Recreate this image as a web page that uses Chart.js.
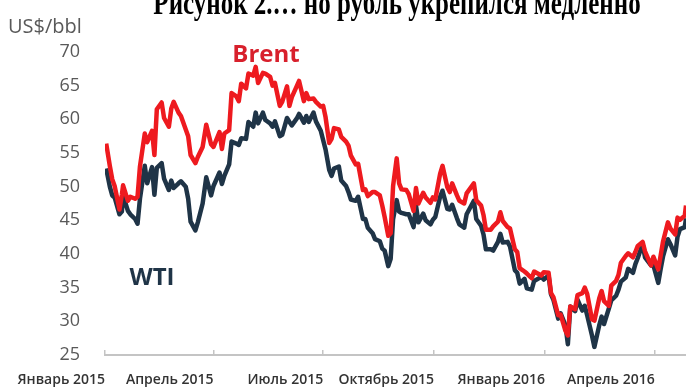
<!DOCTYPE html>
<html>
<head>
<meta charset="utf-8">
<title>Brent и WTI</title>
<script src="https://cdn.jsdelivr.net/npm/chart.js@4/dist/chart.umd.min.js"></script>
<style>
  html, body { margin: 0; padding: 0; background: #fff; }
  #wrap { position: relative; width: 686px; height: 391px; }
</style>
</head>
<body>
<div id="wrap"><canvas id="oilChart"></canvas></div>
<script>
// Котировки нефти, долл. за баррель (январь 2015 – апрель 2016)
const dates = [
  '2015-01-02','2015-01-05','2015-01-07','2015-01-09','2015-01-13','2015-01-15','2015-01-16','2015-01-20',
  '2015-01-22','2015-01-26','2015-01-28','2015-01-30','2015-02-03','2015-02-05','2015-02-09','2015-02-11',
  '2015-02-13','2015-02-17','2015-02-19','2015-02-23','2015-02-25','2015-02-27','2015-03-03','2015-03-05',
  '2015-03-09','2015-03-11','2015-03-13','2015-03-17','2015-03-19','2015-03-23','2015-03-26','2015-03-30',
  '2015-04-01','2015-04-06','2015-04-08','2015-04-10','2015-04-14','2015-04-16','2015-04-20','2015-04-22',
  '2015-04-24','2015-04-28','2015-04-30','2015-05-04','2015-05-06','2015-05-08','2015-05-12','2015-05-14',
  '2015-05-18','2015-05-20','2015-05-22','2015-05-26','2015-05-28','2015-06-01','2015-06-03','2015-06-05',
  '2015-06-09','2015-06-11','2015-06-15','2015-06-17','2015-06-19','2015-06-23','2015-06-25','2015-06-29',
  '2015-07-01','2015-07-03','2015-07-06','2015-07-08','2015-07-10','2015-07-14','2015-07-16','2015-07-20',
  '2015-07-22','2015-07-24','2015-07-28','2015-07-30','2015-08-03','2015-08-05','2015-08-07','2015-08-11',
  '2015-08-13','2015-08-17','2015-08-19','2015-08-21','2015-08-24','2015-08-26','2015-08-28','2015-08-31',
  '2015-09-02','2015-09-04','2015-09-08','2015-09-10','2015-09-14','2015-09-16','2015-09-18','2015-09-22',
  '2015-09-24','2015-09-28','2015-09-30','2015-10-02','2015-10-06','2015-10-08','2015-10-12','2015-10-14',
  '2015-10-16','2015-10-20','2015-10-22','2015-10-26','2015-10-28','2015-11-03','2015-11-05','2015-11-09',
  '2015-11-11','2015-11-13','2015-11-17','2015-11-19','2015-11-23','2015-11-25','2015-11-27','2015-12-01',
  '2015-12-03','2015-12-07','2015-12-09','2015-12-11','2015-12-15','2015-12-17','2015-12-21','2015-12-23',
  '2015-12-29','2015-12-31','2016-01-04','2016-01-06','2016-01-08','2016-01-12','2016-01-14','2016-01-18',
  '2016-01-20','2016-01-22','2016-01-26','2016-01-28','2016-02-01','2016-02-03','2016-02-05','2016-02-09',
  '2016-02-11','2016-02-15','2016-02-17','2016-02-19','2016-02-23','2016-02-25','2016-02-29','2016-03-02',
  '2016-03-04','2016-03-08','2016-03-10','2016-03-14','2016-03-16','2016-03-18','2016-03-22','2016-03-24',
  '2016-03-29','2016-03-31','2016-04-04','2016-04-06','2016-04-08','2016-04-12','2016-04-14','2016-04-18',
  '2016-04-20','2016-04-22','2016-04-26','2016-04-27'
];

const brent = [
  56.4, 53.1, 51.1, 50.1, 46.6, 48.8, 50.2, 47.9,
  48.5, 48.2, 48.5, 53.0, 57.9, 56.6, 58.3, 54.7,
  61.5, 62.5, 60.2, 58.9, 61.6, 62.6, 61.0, 60.5,
  58.5, 57.5, 54.7, 53.5, 54.4, 55.9, 59.2, 56.3,
  55.9, 58.1, 55.6, 57.9, 58.4, 63.9, 63.4, 62.7,
  65.3, 64.6, 66.8, 66.5, 67.8, 65.4, 66.9, 66.8,
  66.3, 65.0, 65.4, 62.0, 62.6, 64.9, 62.0, 63.3,
  64.9, 65.7, 62.7, 63.9, 63.0, 63.1, 62.6, 61.9,
  62.0, 60.3, 56.5, 57.1, 58.7, 58.5, 57.4, 56.7,
  56.1, 54.6, 53.3, 53.4, 49.5, 49.6, 48.6, 49.2,
  49.2, 48.7, 47.2, 45.5, 42.7, 43.1, 50.1, 54.2,
  50.5, 49.6, 49.5, 48.9, 46.4, 49.8, 47.5, 49.1,
  48.4, 47.6, 48.4, 48.1, 51.9, 53.1, 49.9, 49.2,
  50.5, 48.7, 47.9, 47.5, 49.0, 50.5, 48.0, 47.2,
  45.8, 43.6, 43.6, 44.1, 44.8, 46.2, 44.9, 44.0,
  43.8, 40.7, 40.3, 37.9, 37.4, 37.1, 36.4, 37.4,
  36.8, 37.3, 37.2, 34.2, 33.6, 30.9, 31.0, 28.6,
  27.9, 32.2, 31.8, 33.9, 34.2, 35.0, 34.1, 30.3,
  30.1, 33.4, 34.5, 33.0, 32.3, 35.3, 36.0, 36.9,
  38.7, 39.7, 40.1, 39.5, 40.3, 41.2, 41.8, 40.4,
  38.3, 39.6, 37.7, 39.8, 41.9, 44.7, 43.8, 42.9,
  45.4, 45.1, 45.7, 47.2
];

const wti = [
  52.7, 50.0, 48.7, 48.4, 45.9, 46.3, 48.7, 46.4,
  45.9, 45.2, 44.5, 48.2, 53.1, 50.5, 52.9, 48.8,
  52.8, 53.5, 51.2, 49.5, 50.9, 49.8, 50.5, 50.8,
  50.0, 48.2, 44.8, 43.5, 44.7, 47.5, 51.4, 48.7,
  50.1, 52.1, 50.4, 51.6, 53.3, 56.7, 56.4, 56.2,
  57.2, 57.1, 59.6, 58.9, 61.0, 59.4, 61.0, 59.9,
  59.4, 58.9, 59.7, 57.5, 57.7, 60.2, 59.6, 59.1,
  60.1, 60.8, 59.5, 60.5, 59.6, 61.0, 59.7, 58.3,
  56.9, 55.5, 52.5, 51.6, 52.7, 53.0, 50.9, 50.1,
  49.2, 48.1, 47.9, 48.5, 45.2, 45.2, 43.9, 43.1,
  42.2, 41.9, 40.8, 40.5, 38.2, 39.3, 45.2, 48.0,
  46.3, 46.1, 45.9, 45.9, 44.0, 47.2, 44.7, 46.0,
  45.0, 44.4, 45.1, 45.5, 48.5, 49.4, 46.7, 46.6,
  47.3, 45.3, 44.4, 43.9, 45.9, 47.9, 45.2, 44.2,
  42.9, 40.7, 40.7, 40.5, 41.8, 43.0, 41.7, 41.8,
  41.1, 37.6, 37.2, 35.6, 36.3, 34.9, 34.7, 36.0,
  36.6, 36.2, 36.8, 34.0, 33.2, 30.4, 31.2, 29.4,
  26.6, 32.2, 31.5, 33.2, 31.6, 32.3, 30.9, 27.9,
  26.2, 29.4, 30.7, 29.6, 31.9, 33.1, 33.8, 34.7,
  35.9, 36.5, 37.8, 37.2, 38.5, 39.4, 41.5, 39.5,
  38.3, 38.3, 35.7, 37.8, 39.7, 42.2, 41.5, 39.8,
  42.6, 43.7, 44.0, 45.3
];

const tickDates = ['2015-01-01', '2015-04-01', '2015-07-01', '2015-10-01', '2016-01-01', '2016-04-01'];
const tickLabels = ['Январь 2015', 'Апрель 2015', 'Июль 2015', 'Октябрь 2015', 'Январь 2016', 'Апрель 2016'];
const yTicks = [25, 30, 35, 40, 45, 50, 55, 60, 65, 70];

const heading = 'Рисунок 2.… но рубль укрепился медленно';
const unitLabel = 'US$/bbl';

// дни от 1 января 2015
const START = Date.UTC(2015, 0, 1);
function dayOf(s) {
  const [y, m, d] = s.split('-').map(Number);
  return (Date.UTC(y, m - 1, d) - START) / 86400000;
}
const days = dates.map(dayOf);
const tickDays = tickDates.map(dayOf);

// подписи: заголовок (обрезан сверху), единицы, названия рядов
const captions = {
  id: 'captions',
  afterDraw(chart) {
    const ctx = chart.ctx;
    ctx.save();
    ctx.textBaseline = 'alphabetic';

    ctx.save();
    ctx.fillStyle = '#000';
    ctx.textAlign = 'center';
    ctx.font = 'bold 25px "Liberation Serif"';
    ctx.translate(397, 14);
    ctx.scale(1, 1.35);
    ctx.fillText(heading, 0, 0);
    ctx.restore();

    ctx.fillStyle = '#595959';
    ctx.textAlign = 'left';
    ctx.font = '20px "Open Sans"';
    ctx.fillText(unitLabel, 8, 33);

    ctx.textAlign = 'center';
    ctx.font = 'bold 24px "Open Sans"';
    ctx.fillStyle = '#d8202c';
    ctx.fillText('Brent', 266, 62);
    ctx.fillStyle = '#1f3447';
    ctx.fillText('WTI', 152, 285);
    ctx.restore();
  }
};

const ctx = document.getElementById('oilChart').getContext('2d');
const chart = new Chart(ctx, {
  type: 'line',
  data: {
    datasets: [
      {
        label: 'Brent',
        data: days.map((d, i) => ({ x: d, y: brent[i] })),
        borderColor: '#ee1a1f',
        borderWidth: 4.5,
        borderJoinStyle: 'round',
        pointRadius: 0,
        tension: 0
      },
      {
        label: 'WTI',
        data: days.map((d, i) => ({ x: d, y: wti[i] })),
        borderColor: '#1f3447',
        borderWidth: 4.5,
        borderJoinStyle: 'round',
        pointRadius: 0,
        tension: 0
      }
    ]
  },
  options: {
    responsive: true,
    maintainAspectRatio: false,
    animation: false,
    layout: { padding: { top: 52, right: 0, bottom: 0, left: 0 } },
    plugins: {
      legend: { display: false },
      tooltip: { enabled: false }
    },
    scales: {
      x: {
        type: 'linear',
        min: 0,
        max: 482,
        afterBuildTicks: (scale) => {
          scale.ticks = tickDays.map(v => ({ value: v }));
        },
        afterFit: (scale) => {
          scale.height = 36;
          scale.paddingLeft = 0;
          scale.paddingRight = 0;
        },
        ticks: {
          autoSkip: false,
          maxRotation: 0,
          align: 'end',
          padding: 22,
          color: '#333',
          font: { family: 'Open Sans', size: 14, weight: '600' },
          callback: (v) => tickLabels[tickDays.indexOf(v)]
        },
        grid: {
          drawOnChartArea: false,
          drawTicks: true,
          tickLength: -5,
          color: '#c4c4c4',
          lineWidth: 1.5
        },
        border: { display: true, color: '#c4c4c4', width: 2 }
      },
      y: {
        min: 25,
        max: 70,
        afterBuildTicks: (scale) => {
          scale.ticks = yTicks.map(v => ({ value: v }));
        },
        afterFit: (scale) => { scale.width = 105; },
        ticks: {
          padding: 17,
          color: '#595959',
          font: { family: 'Open Sans', size: 18 }
        },
        grid: { display: false },
        border: { display: false }
      }
    }
  },
  plugins: [captions]
});
</script>
</body>
</html>
